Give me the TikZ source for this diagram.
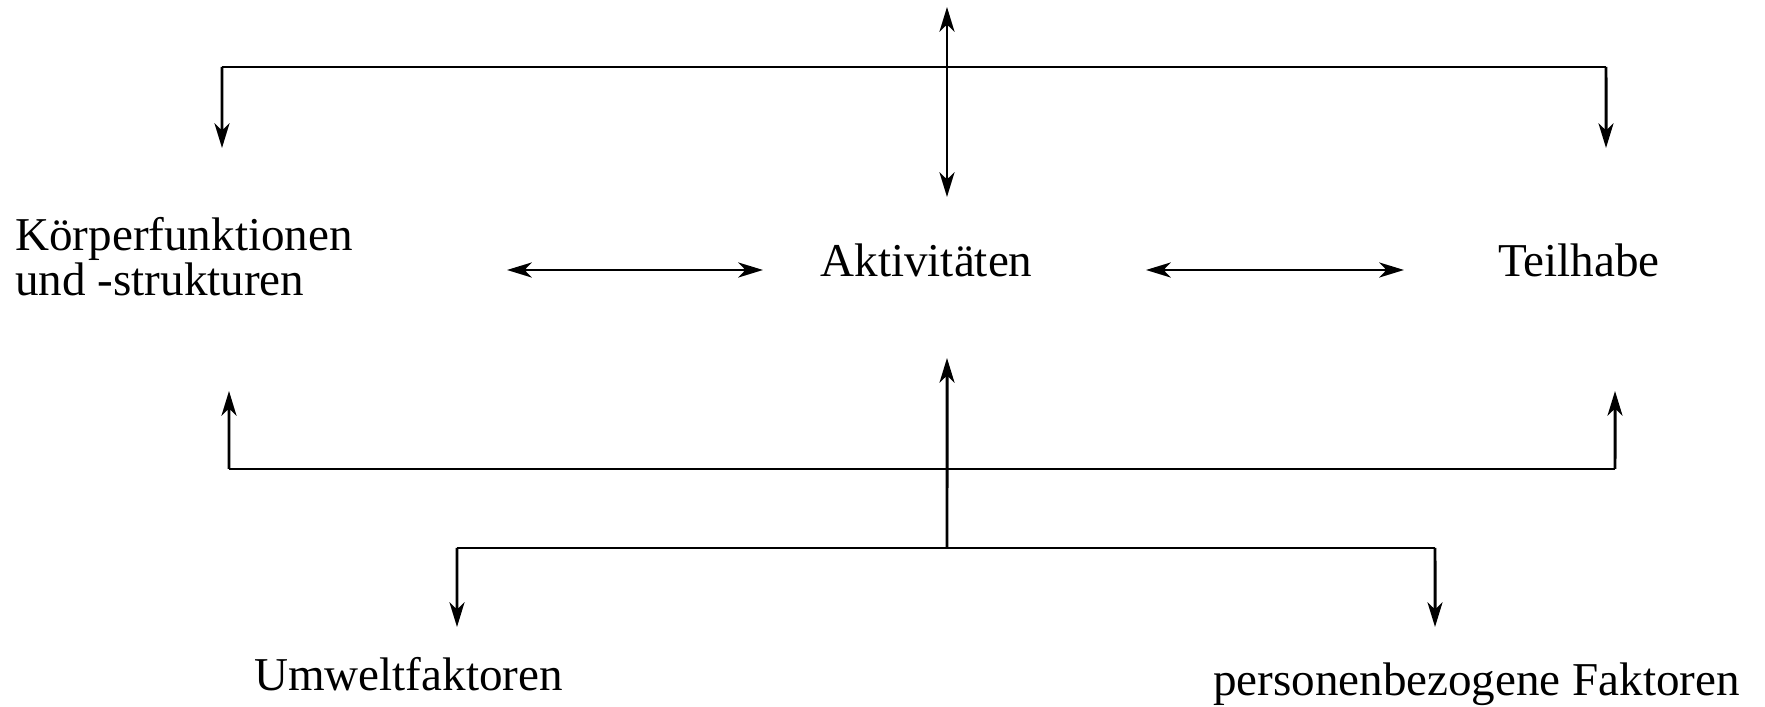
\documentclass[tikz,border=0pt]{standalone}
\usepackage{fontspec}
\setmainfont{Liberation Serif}
\usetikzlibrary{arrows.meta}
\tikzstyle{link} = [line width=1.7pt, -{Stealth[length=14pt,width=8.5pt,inset=4pt]}]
\tikzstyle{biglink} = [line width=1.7pt, {Stealth[length=14pt,width=8.5pt,inset=4pt]}-{Stealth[length=14pt,width=8.5pt,inset=4pt]}]
\tikzstyle{bar} = [line width=1.7pt]
\tikzstyle{label} = [inner sep=0pt, font=\fontsize{26.8}{25.6}\selectfont]

\begin{document}
\begin{tikzpicture}[scale=0.2]
        \useasboundingbox (0,0) rectangle (176.5,-70.7);
        % text nodes
        \node [label, anchor=base west, align=left] (body) at (1.5,-29.5) {Körperfunktionen\\und -strukturen};
        \node [label, anchor=base] (activity) at (92.65,-27.7) {Aktivitäten};
        \node [label, anchor=base] (participation) at (157.9,-27.7) {Teilhabe};
        \node [label, anchor=base] (environ) at (40.85,-69.0) {Umweltfaktoren};
        \node [label, anchor=base] (personal) at (147.65,-69.5) {personenbezogene Faktoren};
        % upper bracket
        \coordinate (toptip) at (94.7,-0.7);
        \coordinate (topmid) at (94.7,-19.7);
        \coordinate (topleft) at (22.2,-6.7);
        \coordinate (topright) at (160.6,-6.7);
        \draw [biglink] (toptip) -- (topmid);
        \draw [bar] (topleft) -- (topright);
        \draw [link] (topleft) -- (22.2,-14.8);
        \draw [link] (topright) -- (160.6,-14.8);
        % middle row
        \coordinate (bodyend) at (50.7,-27);
        \coordinate (actleft) at (76.3,-27);
        \coordinate (actright) at (114.6,-27);
        \coordinate (partend) at (140.4,-27);
        \draw [biglink] (bodyend) -- (actleft);
        \draw [biglink] (actright) -- (partend);
        % lower bracket
        \coordinate (hub) at (94.7,-54.8);
        \coordinate (lowleft) at (22.9,-46.9);
        \coordinate (lowright) at (161.5,-46.9);
        \draw [link] (hub) -- (94.7,-35.8);
        \draw [bar] (lowleft) -- (lowright);
        \draw [link] (lowleft) -- (22.9,-39.1);
        \draw [link] (lowright) -- (161.5,-39.1);
        % bottom bracket
        \coordinate (botleft) at (45.7,-54.8);
        \coordinate (botright) at (143.5,-54.8);
        \draw [bar] (botleft) -- (botright);
        \draw [link] (botleft) -- (45.7,-62.7);
        \draw [link] (botright) -- (143.5,-62.7);
\end{tikzpicture}
\end{document}
